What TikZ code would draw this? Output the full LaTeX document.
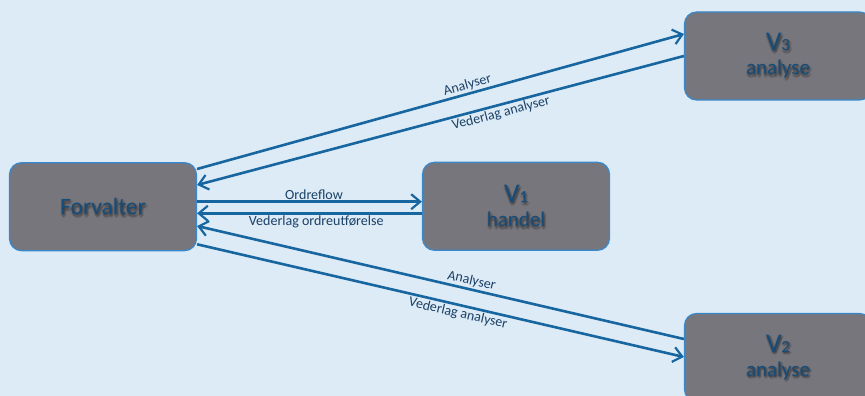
\documentclass[tikz,border=0pt]{standalone}
\usepackage{fontspec}
\setmainfont{Carlito}
\usetikzlibrary{arrows.meta}

\definecolor{bgblue}{RGB}{221,235,246}
\definecolor{boxgray}{RGB}{119,118,124}
\definecolor{boxedge}{RGB}{56,136,205}
\definecolor{boxtext}{RGB}{22,76,120}
\definecolor{flowline}{RGB}{24,102,160}
\definecolor{labeltext}{RGB}{26,64,102}

\tikzset{
  actor/.style={draw=boxedge, line width=1.2pt, fill=boxgray, rounded corners=12pt,
    minimum width=187pt, minimum height=88pt, inner sep=0pt},
  actortext/.style={text=boxtext, align=center, inner sep=0pt,
    font=\fontsize{21}{24}\selectfont},
  glow/.style={actortext, text=black, text opacity=0.09},
  flow/.style={draw=flowline, line width=2.6pt,
    -{Straight Barb[length=9pt,width=15pt,line width=2.2pt]}},
  flowlabel/.style={text=labeltext, font=\fontsize{14}{15}\selectfont,
    sloped, inner sep=1.3pt},
}

\newcommand{\vname}[1]{{\fontsize{27}{27}\selectfont V}{\fontsize{17}{17}\selectfont #1}}

% rounded box whose text casts a soft, blurred shadow
\newcommand{\actorbox}[4][]{%
  \node[actor] (#2) at (#3) {};
  \foreach \dx/\dy in {-0.8/-1.5, 2.8/-1.5, 1/0.3, 1/-3.3, 0.2/-0.7, 1.8/-0.7, 0.2/-2.3, 1.8/-2.3} {
    \node[glow, #1] at ([xshift=\dx pt, yshift=\dy pt]#2.center) {#4};
  }
  \node[actortext, #1] (#2-text) at (#2.center) {#4};
}

\begin{document}
\begin{tikzpicture}[x=1pt,y=1pt]
  \fill[bgblue] (0,0) rectangle (865,396);
  \useasboundingbox (0,0) rectangle (865,396);

  % actors
  \actorbox[font=\fontsize{23.5}{26}\selectfont]{fv}{103,189.3}{Forvalter}
  \actorbox{v1}{516,189.7}{\vname{1}\\handel}
  \actorbox{v3}{778,340}{\vname{3}\\analyse}
  \actorbox{v2}{778,38.5}{\vname{2}\\analyse}

  % Forvalter <-> V3
  \draw[flow] ([yshift=37.7pt]fv.east) -- node[flowlabel, above, pos=0.56] {Analyser} ([yshift=22pt]v3.west);
  \draw[flow] (v3.west) -- node[flowlabel, below, pos=0.38] {Vederlag analyser} ([yshift=21.7pt]fv.east);

  % Forvalter <-> V1
  \draw[flow] ([yshift=5pt]fv.east) -- node[flowlabel, above, pos=0.52] {Ordreflow} ([yshift=5pt]fv.east -| v1.west);
  \draw[flow] ([yshift=-6.6pt]fv.east -| v1.west) -- node[flowlabel, below, pos=0.47] {Vederlag ordreutførelse} ([yshift=-6.6pt]fv.east);

  % Forvalter <-> V2
  \draw[flow] ([yshift=18.5pt]v2.west) -- node[flowlabel, above, pos=0.44] {Analyser} ([yshift=-19.3pt]fv.east);
  \draw[flow] ([yshift=-37.6pt]fv.east) -- node[flowlabel, below, pos=0.54] {Vederlag analyser} ([yshift=0.5pt]v2.west);
\end{tikzpicture}
\end{document}
